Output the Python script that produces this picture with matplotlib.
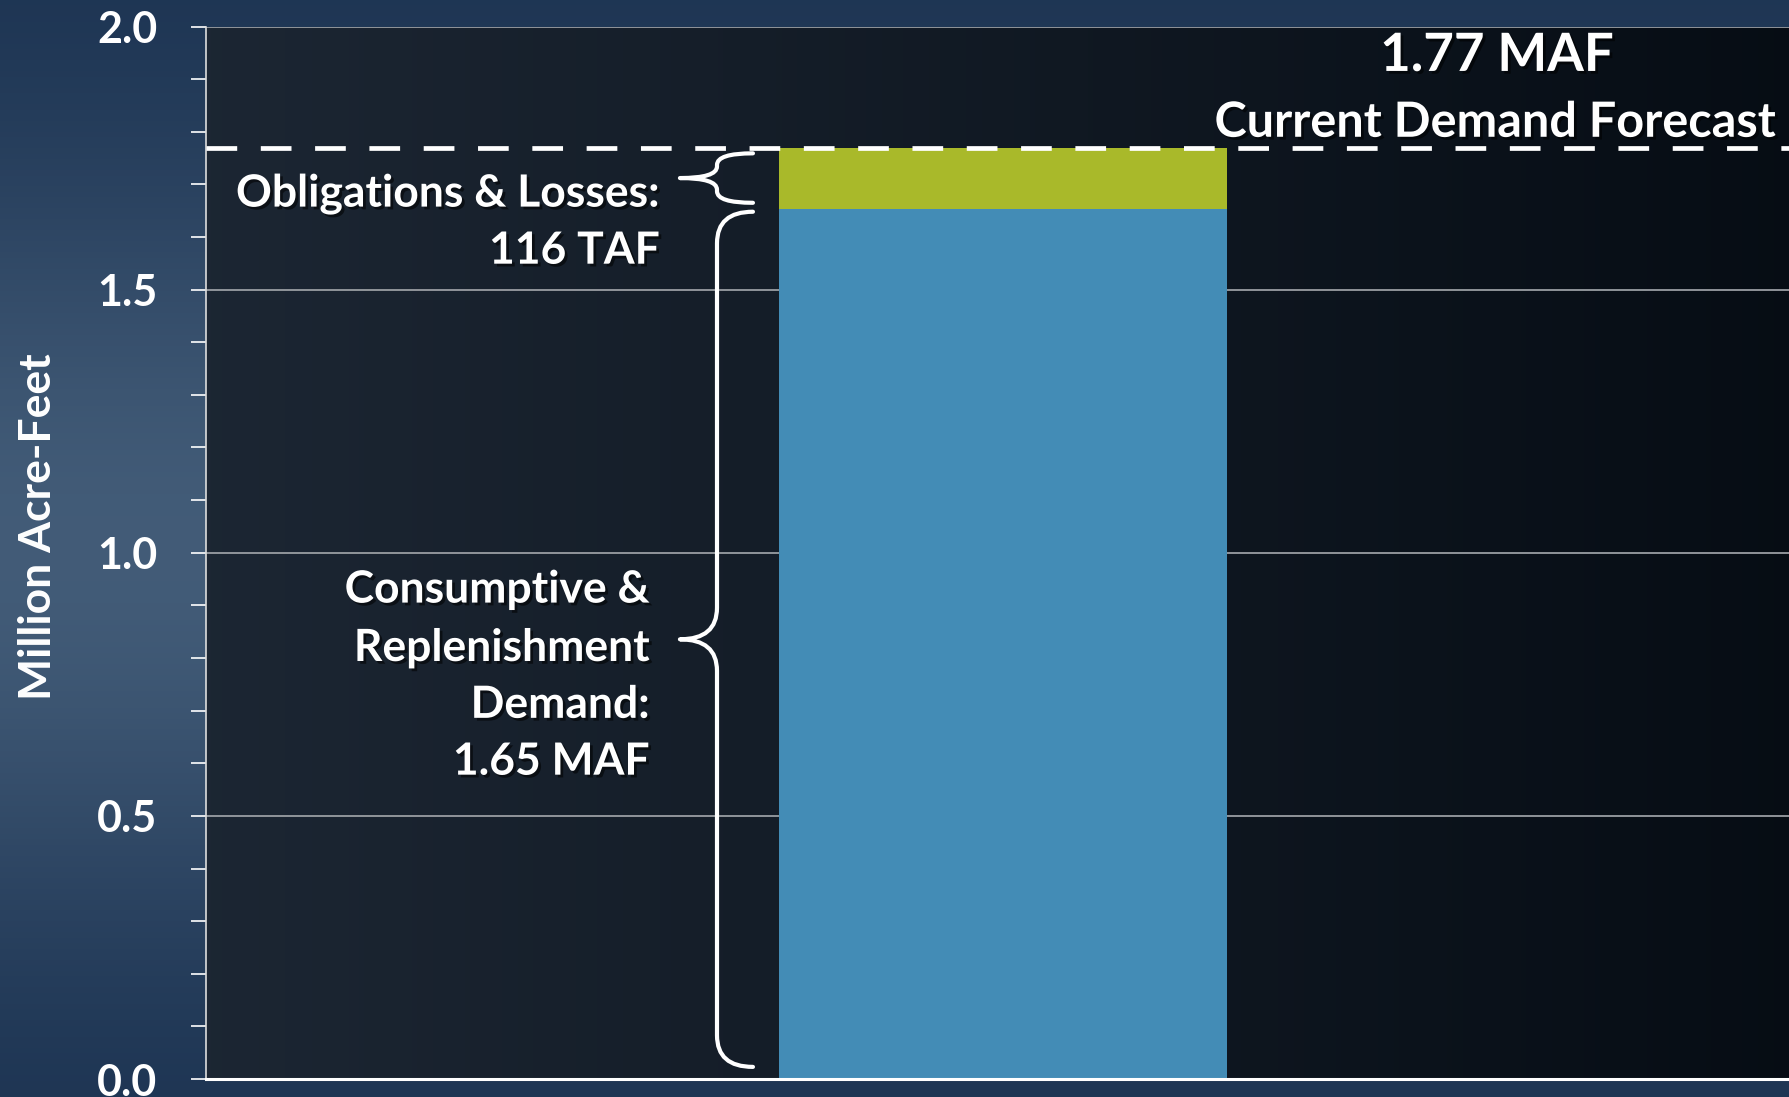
import numpy as np
import matplotlib
matplotlib.use("Agg")
import matplotlib.pyplot as plt
from matplotlib.path import Path
from matplotlib.patches import PathPatch
import matplotlib.patheffects as pe

# data
consumptive = 1.654   # MAF, consumptive & replenishment demand
obligations = 0.116   # MAF, obligations & losses (116 TAF)
total_forecast = consumptive + obligations  # 1.77 MAF
yticks = [0.0, 0.5, 1.0, 1.5, 2.0]
ytick_labels = ["0.0", "0.5", "1.0", "1.5", "2.0"]
left_lines = ["Consumptive &", "Replenishment", "Demand:", "1.65 MAF"]
top_lines = ["Obligations & Losses:", "116 TAF"]

blue = "#438cb6"
green = "#a9b92a"
font = ["Lato", "DejaVu Sans"]
plt.rcParams["font.family"] = font
plt.rcParams["font.weight"] = "bold"

fig = plt.figure(figsize=(17.9, 10.97), dpi=100)

# figure background gradient
bg = fig.add_axes([0, 0, 1, 1], zorder=-10)
yy = np.linspace(0, 1, 200)[:, None]
grad = np.exp(-((yy - 0.5) / 0.35) ** 2)
cols = np.array([0.10, 0.19, 0.31]) + grad[..., None] * np.array([0.16, 0.17, 0.16])
bg.imshow(np.repeat(cols, 2, axis=1), aspect="auto", extent=[0, 1, 0, 1])
bg.set_axis_off()

ax = fig.add_axes([206 / 1790, 18 / 1097, 1 - 206 / 1790, (1079 - 26.5) / 1097])
ax.set_xlim(0, 1)
ax.set_ylim(0, 2.0)

# axes background gradient (dark, a bit lighter on the left)
xx = np.linspace(0, 1, 300)[None, :]
shade = np.array([0.11, 0.15, 0.20]) - np.clip(xx, 0, 1)[..., None] * np.array([0.085, 0.10, 0.12])
shade = np.repeat(shade, 2, axis=0)
ax.imshow(shade, aspect="auto", extent=[0, 1, 0, 2.0], zorder=0)

# grid
for y in yticks[1:]:
    ax.axhline(y, color="#9a9ea3", lw=1.3, zorder=1)

# bars
bar_x = 0.503
bar_w = 0.283
ax.bar([bar_x], [consumptive], width=bar_w, color=blue, zorder=2)
ax.bar([bar_x], [obligations], width=bar_w, bottom=[consumptive], color=green, zorder=2)

# forecast line
ax.axhline(total_forecast, color="white", lw=3.4, ls=(0, (6.5, 5)), zorder=3)


def brace(y0, y1, xm, xt, xe, r):
    ym = (y0 + y1) / 2
    verts = [(xe, y1), (xm, y1), (xm, y1 - r),
             (xm, ym + r), (xm, ym), (xt, ym),
             (xm, ym), (xm, ym - r),
             (xm, y0 + r), (xm, y0), (xe, y0)]
    codes = [Path.MOVETO, Path.CURVE3, Path.CURVE3,
             Path.LINETO, Path.CURVE3, Path.CURVE3,
             Path.CURVE3, Path.CURVE3,
             Path.LINETO, Path.CURVE3, Path.CURVE3]
    ax.add_patch(PathPatch(Path(verts, codes), fill=False, edgecolor="white",
                           lw=3, capstyle="round", joinstyle="round", zorder=4))


brace(1.665, 1.759, 0.3226, 0.2992, 0.3453, 0.022)
brace(0.023, 1.648, 0.3226, 0.2992, 0.3453, 0.06)

shadow = [pe.withSimplePatchShadow(offset=(2, -2), shadow_rgbFace="black", alpha=0.55)]

for txt, y in zip(top_lines, [1.682, 1.574]):
    ax.text(0.2866, y, txt, ha="right", va="center", color="white",
            fontsize=32, fontweight="bold", zorder=5, path_effects=shadow)
for txt, y in zip(left_lines, [0.930, 0.819, 0.711, 0.603]):
    ax.text(0.2803, y, txt, ha="right", va="center", color="white",
            fontsize=32, fontweight="bold", zorder=5, path_effects=shadow)

ax.text(0.815, 1.945, "1.77 MAF", ha="center", va="center", color="white",
        fontsize=38, fontweight="bold", zorder=5, path_effects=shadow)
ax.text(0.814, 1.818, "Current Demand Forecast", ha="center", va="center",
        color="white", fontsize=35, fontweight="bold", zorder=5, path_effects=shadow)

# axes styling
ax.set_xticks([])
ax.set_yticks(yticks)
ax.set_yticklabels(ytick_labels)
ax.set_yticks(np.arange(0, 2.01, 0.1), minor=True)
ax.tick_params(axis="y", which="both", direction="out", length=11, width=1.2,
               color="white", labelcolor="white", labelsize=31, pad=24)
for lbl in ax.get_yticklabels():
    lbl.set_fontweight("bold")
for s in ["top", "right"]:
    ax.spines[s].set_visible(False)
ax.spines["left"].set_color("#dddddd")
ax.spines["left"].set_linewidth(1.2)
ax.spines["bottom"].set_color("white")
ax.spines["bottom"].set_linewidth(2.2)
ax.spines["bottom"].set_zorder(5)

fig.text(38 / 1790, 1 - 527 / 1097, "Million Acre-Feet", rotation=90, ha="center",
         va="center", color="white", fontsize=32, fontweight="bold")

fig.savefig("out.png", dpi=100)
